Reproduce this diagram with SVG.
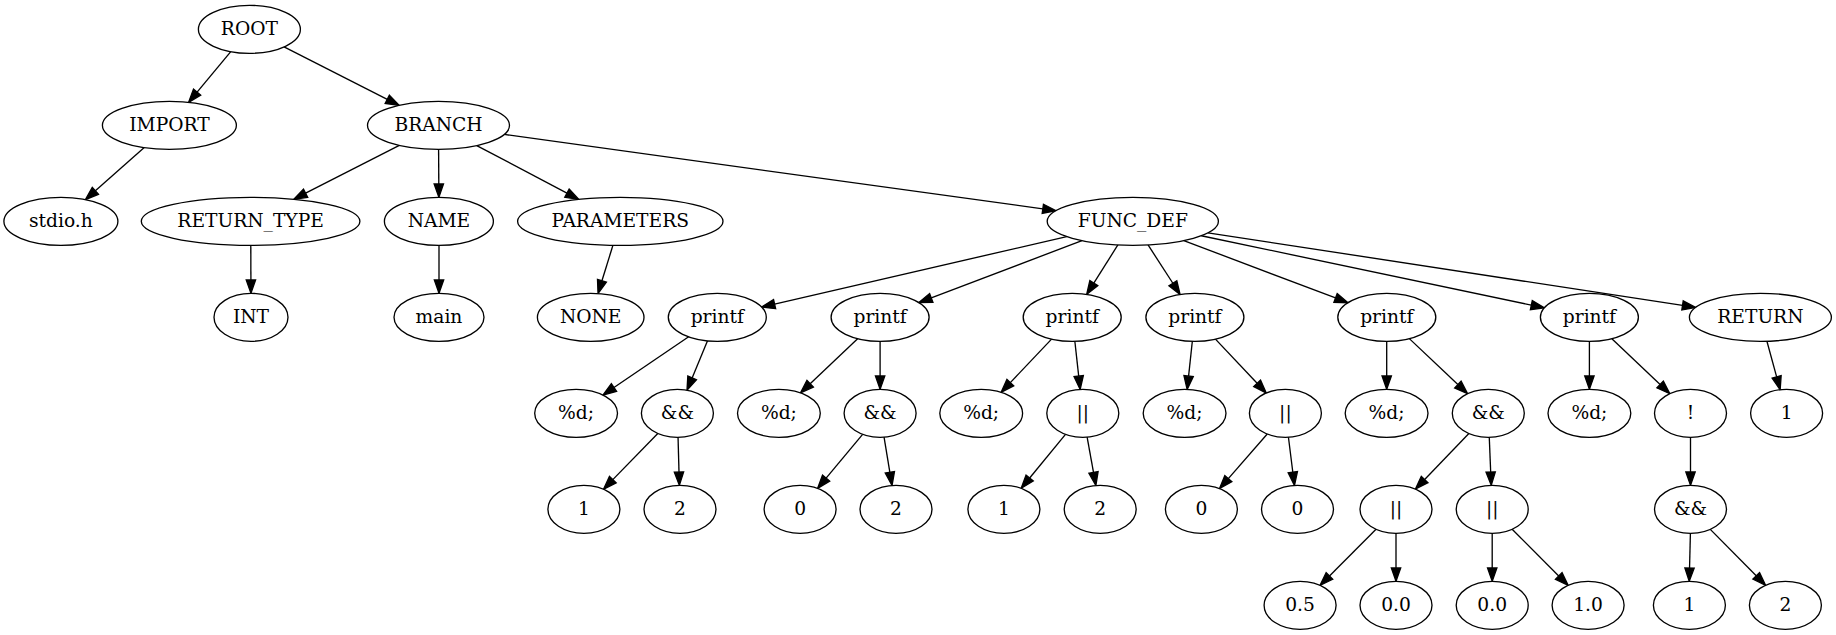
<svg xmlns="http://www.w3.org/2000/svg" width="1836" height="635" viewBox="0 0 1836 635">
<style>
ellipse{fill:#fff;stroke:#000;stroke-width:1.33}
text{font-family:"DejaVu Serif",serif;font-size:18.67px;text-anchor:middle;fill:#000}
.e path{fill:none;stroke:#000;stroke-width:1.33;marker-end:url(#ah)}
</style>
<defs>
<marker id="ah" markerUnits="userSpaceOnUse" markerWidth="16" markerHeight="12" refX="0" refY="5" orient="auto" overflow="visible">
<path d="M0,0.33 L13.33,5 L0,9.67 z" fill="#000" stroke="#000" stroke-width="1.33"/>
</marker>
</defs>
<rect width="1836" height="635" fill="#fff"/>
<g class="e" id="connectors">
<path d="M230.78,51.67 L197.1,92.09"/>
<path d="M284.07,46.93 L387.26,99.32"/>
<path d="M144.26,147.58 L95.37,190.83"/>
<path d="M399.33,145.35 L305.62,193.21"/>
<path d="M438.6,149.33 L438.8,184"/>
<path d="M476.78,145.54 L566.95,193.17"/>
<path d="M504.22,134.42 L1042.83,208.88"/>
<path d="M250.8,245.33 L250.9,280"/>
<path d="M439,245.33 L439,280"/>
<path d="M612.92,245.27 L601.96,280.81"/>
<path d="M1066.74,236.59 L774.61,304.09"/>
<path d="M1081.97,240.64 L931.28,297.89"/>
<path d="M1117.88,244.96 L1093.8,283.13"/>
<path d="M1148.07,244.94 L1172.86,283.26"/>
<path d="M1183.81,240.61 L1335.53,297.96"/>
<path d="M1201.28,235.73 L1531.33,305.12"/>
<path d="M1207.95,232.82 L1682.53,305.42"/>
<path d="M688.66,336.8 L613.98,387.57"/>
<path d="M707.52,340.85 L692.13,377.89"/>
<path d="M857.62,338.66 L810.16,383.68"/>
<path d="M880.1,341.33 L880.1,376"/>
<path d="M1051.56,339.1 L1010.31,382.63"/>
<path d="M1074.85,341.3 L1078.7,376.14"/>
<path d="M1192.33,341.3 L1188.59,376.13"/>
<path d="M1215.44,339.12 L1257.11,383.31"/>
<path d="M1386.7,341.33 L1386.7,376"/>
<path d="M1409.34,338.64 L1457.88,384.55"/>
<path d="M1589.4,341.33 L1589.4,376"/>
<path d="M1611.88,338.67 L1660.12,384.5"/>
<path d="M1766.92,341.23 L1776.64,376.85"/>
<path d="M657.79,433.46 L612.81,479.65"/>
<path d="M678.05,437.33 L679,472"/>
<path d="M862.62,434.31 L826.11,478.11"/>
<path d="M884.05,437.18 L889.87,472.33"/>
<path d="M1065.5,434.38 L1029.66,477.98"/>
<path d="M1087.12,437.15 L1093.5,472.39"/>
<path d="M1267.26,434.06 L1228.32,478.57"/>
<path d="M1288.42,437.25 L1292.81,472.19"/>
<path d="M1468.87,433.54 L1424.67,479.51"/>
<path d="M1489.27,437.31 L1490.69,472.03"/>
<path d="M1690.5,437.33 L1690.5,472"/>
<path d="M1376.05,529.3 L1329.47,575.93"/>
<path d="M1396,533.33 L1396,568"/>
<path d="M1492.2,533.33 L1492.2,568"/>
<path d="M1512.15,529.3 L1558.73,575.93"/>
<path d="M1690.4,533.33 L1689.55,568"/>
<path d="M1710.31,529.37 L1756.22,575.81"/>
</g>
<g id="n_root"><ellipse cx="249.4" cy="29.33" rx="51" ry="24"/><text x="249.4" y="34.6">ROOT</text></g>
<g id="n_import"><ellipse cx="169.4" cy="125.33" rx="67" ry="24"/><text x="169.4" y="130.6">IMPORT</text></g>
<g id="n_branch"><ellipse cx="438.5" cy="125.33" rx="71" ry="24"/><text x="438.5" y="130.6">BRANCH</text></g>
<g id="n_stdio"><ellipse cx="60.9" cy="221.33" rx="57" ry="24"/><text x="60.9" y="226.6">stdio.h</text></g>
<g id="n_rettype"><ellipse cx="250.6" cy="221.33" rx="109.3" ry="24"/><text x="250.6" y="226.6">RETURN_TYPE</text></g>
<g id="n_name"><ellipse cx="438.9" cy="221.33" rx="54.5" ry="24"/><text x="438.9" y="226.6">NAME</text></g>
<g id="n_params"><ellipse cx="620.3" cy="221.33" rx="102.7" ry="24"/><text x="620.3" y="226.6">PARAMETERS</text></g>
<g id="n_funcdef"><ellipse cx="1132.8" cy="221.33" rx="85.6" ry="24"/><text x="1132.8" y="226.6">FUNC_DEF</text></g>
<g id="n_int"><ellipse cx="251" cy="317.33" rx="37" ry="24"/><text x="251" y="322.6">INT</text></g>
<g id="n_main"><ellipse cx="439" cy="317.33" rx="45" ry="24"/><text x="439" y="322.6">main</text></g>
<g id="n_none"><ellipse cx="590.7" cy="317.33" rx="53.3" ry="24"/><text x="590.7" y="322.6">NONE</text></g>
<g id="n_printf1"><ellipse cx="717.3" cy="317.33" rx="49" ry="24"/><text x="717.3" y="322.6">printf</text></g>
<g id="n_printf2"><ellipse cx="880.1" cy="317.33" rx="49" ry="24"/><text x="880.1" y="322.6">printf</text></g>
<g id="n_printf3"><ellipse cx="1072.2" cy="317.33" rx="49" ry="24"/><text x="1072.2" y="322.6">printf</text></g>
<g id="n_printf4"><ellipse cx="1194.9" cy="317.33" rx="49" ry="24"/><text x="1194.9" y="322.6">printf</text></g>
<g id="n_printf5"><ellipse cx="1386.8" cy="317.33" rx="49" ry="24"/><text x="1386.8" y="322.6">printf</text></g>
<g id="n_printf6"><ellipse cx="1589.4" cy="317.33" rx="49" ry="24"/><text x="1589.4" y="322.6">printf</text></g>
<g id="n_return"><ellipse cx="1760.4" cy="317.33" rx="71" ry="24"/><text x="1760.4" y="322.6">RETURN</text></g>
<g id="n_fmt1"><ellipse cx="576.1" cy="413.33" rx="41.4" ry="24"/><text x="576.1" y="418.6">%d;</text></g>
<g id="n_and1"><ellipse cx="677.4" cy="413.33" rx="36" ry="24"/><text x="677.4" y="418.6">&amp;&amp;</text></g>
<g id="n_fmt2"><ellipse cx="778.9" cy="413.33" rx="41.4" ry="24"/><text x="778.9" y="418.6">%d;</text></g>
<g id="n_and2"><ellipse cx="880.1" cy="413.33" rx="36" ry="24"/><text x="880.1" y="418.6">&amp;&amp;</text></g>
<g id="n_fmt3"><ellipse cx="981.2" cy="413.33" rx="41.4" ry="24"/><text x="981.2" y="418.6">%d;</text></g>
<g id="n_or3"><ellipse cx="1082.8" cy="413.33" rx="36" ry="24"/><text x="1082.8" y="418.6">||</text></g>
<g id="n_fmt4"><ellipse cx="1184.6" cy="413.33" rx="41.4" ry="24"/><text x="1184.6" y="418.6">%d;</text></g>
<g id="n_or4"><ellipse cx="1285.4" cy="413.33" rx="36" ry="24"/><text x="1285.4" y="418.6">||</text></g>
<g id="n_fmt5"><ellipse cx="1386.6" cy="413.33" rx="41.4" ry="24"/><text x="1386.6" y="418.6">%d;</text></g>
<g id="n_and5"><ellipse cx="1488.3" cy="413.33" rx="36" ry="24"/><text x="1488.3" y="418.6">&amp;&amp;</text></g>
<g id="n_fmt6"><ellipse cx="1589.4" cy="413.33" rx="41.4" ry="24"/><text x="1589.4" y="418.6">%d;</text></g>
<g id="n_not6"><ellipse cx="1690.5" cy="413.33" rx="36" ry="24"/><text x="1690.5" y="418.6">!</text></g>
<g id="n_ret1"><ellipse cx="1786.6" cy="413.33" rx="36" ry="24"/><text x="1786.6" y="418.6">1</text></g>
<g id="n_a1l"><ellipse cx="583.9" cy="509.33" rx="36" ry="24"/><text x="583.9" y="514.6">1</text></g>
<g id="n_a1r"><ellipse cx="680" cy="509.33" rx="36" ry="24"/><text x="680" y="514.6">2</text></g>
<g id="n_a2l"><ellipse cx="800.1" cy="509.33" rx="36" ry="24"/><text x="800.1" y="514.6">0</text></g>
<g id="n_a2r"><ellipse cx="896" cy="509.33" rx="36" ry="24"/><text x="896" y="514.6">2</text></g>
<g id="n_o3l"><ellipse cx="1003.9" cy="509.33" rx="36" ry="24"/><text x="1003.9" y="514.6">1</text></g>
<g id="n_o3r"><ellipse cx="1100.2" cy="509.33" rx="36" ry="24"/><text x="1100.2" y="514.6">2</text></g>
<g id="n_o4l"><ellipse cx="1201.4" cy="509.33" rx="36" ry="24"/><text x="1201.4" y="514.6">0</text></g>
<g id="n_o4r"><ellipse cx="1297.5" cy="509.33" rx="36" ry="24"/><text x="1297.5" y="514.6">0</text></g>
<g id="n_a5l"><ellipse cx="1396" cy="509.33" rx="36" ry="24"/><text x="1396" y="514.6">||</text></g>
<g id="n_a5r"><ellipse cx="1492.2" cy="509.33" rx="36" ry="24"/><text x="1492.2" y="514.6">||</text></g>
<g id="n_and6"><ellipse cx="1690.5" cy="509.33" rx="36" ry="24"/><text x="1690.5" y="514.6">&amp;&amp;</text></g>
<g id="n_v05"><ellipse cx="1300.1" cy="605.33" rx="36" ry="24"/><text x="1300.1" y="610.6">0.5</text></g>
<g id="n_v00a"><ellipse cx="1396" cy="605.33" rx="36" ry="24"/><text x="1396" y="610.6">0.0</text></g>
<g id="n_v00b"><ellipse cx="1492.2" cy="605.33" rx="36" ry="24"/><text x="1492.2" y="610.6">0.0</text></g>
<g id="n_v10"><ellipse cx="1588.1" cy="605.33" rx="36" ry="24"/><text x="1588.1" y="610.6">1.0</text></g>
<g id="n_n1"><ellipse cx="1689.4" cy="605.33" rx="36" ry="24"/><text x="1689.4" y="610.6">1</text></g>
<g id="n_n2"><ellipse cx="1785.4" cy="605.33" rx="36" ry="24"/><text x="1785.4" y="610.6">2</text></g>
</svg>
